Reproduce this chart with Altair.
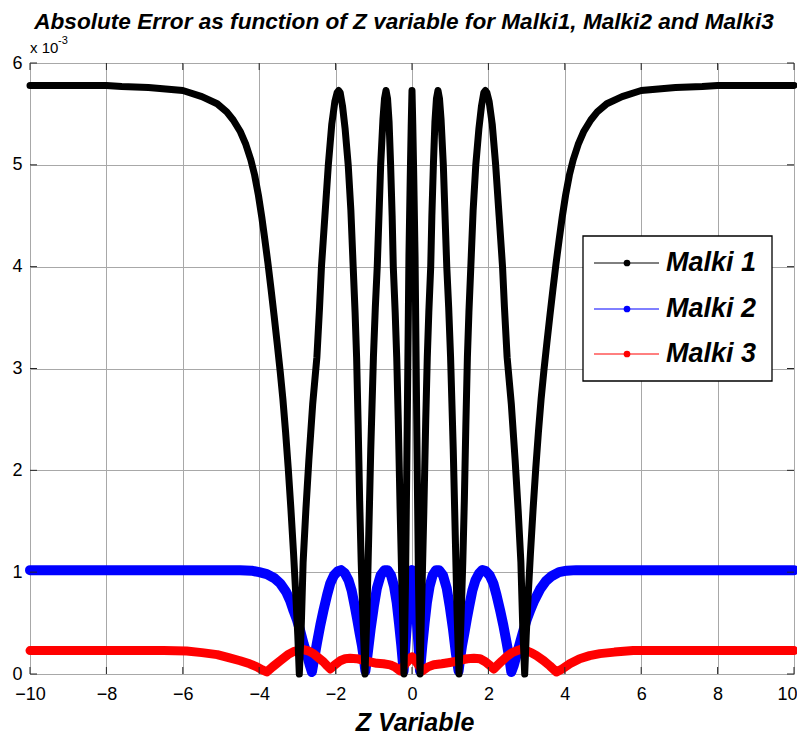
import altair as alt
import pandas as pd

TITLE = "Absolute Error as function of Z variable for Malki1, Malki2 and Malki3"
X_TITLE = "Z Variable"
SERIES = ["Malki 1", "Malki 2", "Malki 3"]
COLORS = ["#000000", "#0000ff", "#ff0000"]
X_TICKS = [-10, -8, -6, -4, -2, 0, 2, 4, 6, 8, 10]
Y_TICKS = [0, 1, 2, 3, 4, 5, 6]

# values in units of 1e-3
M1_X = [-10, -8, -7.6, -6.9, -6.0, -5.5, -5.1, -4.85, -4.68, -4.5, -4.35, -4.22, -4.12,
        -4.02, -3.93, -3.85, -3.77, -3.69, -3.61, -3.53, -3.45, -3.38, -3.31, -3.24, -3.17,
        -3.10, -3.04, -2.99, -2.95,
        -2.90, -2.85, -2.78, -2.70, -2.60, -2.49, -2.42, -2.37, -2.28, -2.19, -2.10, -2.02, -1.96,
        -1.92, -1.88, -1.82, -1.75, -1.67, -1.60, -1.54, -1.49, -1.45, -1.41, -1.37, -1.33, -1.28, -1.23,
        -1.18, -1.13, -1.08, -1.01, -0.96, -0.91, -0.86, -0.82, -0.76, -0.72, -0.68, -0.64, -0.60,
        -0.56, -0.52, -0.49, -0.44, -0.40, -0.36, -0.31, -0.26, -0.21,
        -0.17, -0.14, -0.11, -0.08, -0.045, -0.02, 0.0,
        0.02, 0.045, 0.08, 0.11, 0.14, 0.17,
        0.21, 0.26, 0.31, 0.36, 0.40, 0.44, 0.49, 0.52, 0.56, 0.60, 0.64, 0.68, 0.72, 0.76,
        0.82, 0.86, 0.91, 0.96, 1.01, 1.08, 1.13, 1.18,
        1.23, 1.28, 1.33, 1.37, 1.41, 1.45, 1.49, 1.54, 1.60, 1.67, 1.75, 1.82, 1.88, 1.92,
        1.96, 2.02, 2.10, 2.19, 2.28, 2.37, 2.42, 2.49, 2.60, 2.70, 2.78, 2.85, 2.90,
        2.95, 2.99, 3.04, 3.10, 3.17, 3.24, 3.31, 3.38, 3.45, 3.53, 3.61, 3.69, 3.77,
        3.85, 3.93, 4.02, 4.12, 4.22, 4.35, 4.5, 4.68, 4.85, 5.1, 5.5, 6.0, 6.9, 7.6, 8, 10]
M1_Y = [5.78, 5.78, 5.77, 5.76, 5.73, 5.67, 5.60, 5.52, 5.44, 5.33, 5.20, 5.05, 4.90,
        4.70, 4.48, 4.26, 4.03, 3.78, 3.52, 3.25, 2.97, 2.70, 2.38, 2.02, 1.62,
        1.18, 0.76, 0.38, 0.00,
        0.45, 1.10, 1.60, 2.10, 2.65, 3.11, 3.60, 4.00, 4.50, 5.00, 5.40, 5.62, 5.71,
        5.73, 5.71, 5.58, 5.35, 5.00, 4.55, 4.00, 3.55, 3.11, 2.45, 1.70, 1.10, 0.50, 0.00,
        0.60, 1.40, 2.20, 3.11, 3.60, 4.00, 4.55, 5.00, 5.45, 5.65, 5.73, 5.65, 5.42,
        5.00, 4.50, 4.00, 3.55, 3.11, 2.50, 1.60, 0.80, 0.00,
        0.90, 1.90, 3.00, 4.10, 4.90, 5.40, 5.73,
        5.40, 4.90, 4.10, 3.00, 1.90, 0.90,
        0.00, 0.80, 1.60, 2.50, 3.11, 3.55, 4.00, 4.50, 5.00, 5.42, 5.65, 5.73, 5.65, 5.45,
        5.00, 4.55, 4.00, 3.60, 3.11, 2.20, 1.40, 0.60,
        0.00, 0.50, 1.10, 1.70, 2.45, 3.11, 3.55, 4.00, 4.55, 5.00, 5.35, 5.58, 5.71, 5.73,
        5.71, 5.62, 5.40, 5.00, 4.50, 4.00, 3.60, 3.11, 2.65, 2.10, 1.60, 1.10, 0.45,
        0.00, 0.38, 0.76, 1.18, 1.62, 2.02, 2.38, 2.70, 2.97, 3.25, 3.52, 3.78, 4.03,
        4.26, 4.48, 4.70, 4.90, 5.05, 5.20, 5.33, 5.44, 5.52, 5.60, 5.67, 5.73, 5.76, 5.77, 5.78, 5.78]

M2_X = [-10, -8, -6, -5, -4.5, -4.2, -4.0, -3.8, -3.6, -3.45, -3.3, -3.19, -3.1, -3.01, -2.93, -2.84,
        -2.75, -2.67, -2.62,
        -2.56, -2.49, -2.40, -2.32, -2.22, -2.14, -2.04, -1.94, -1.86, -1.76, -1.66, -1.58, -1.50,
        -1.44, -1.37, -1.31, -1.26, -1.22,
        -1.16, -1.08, -1.0, -0.92, -0.82, -0.72, -0.64, -0.55, -0.47, -0.40, -0.34, -0.28, -0.22,
        -0.15, -0.08, -0.03, 0.0, 0.03, 0.08, 0.15, 0.21,
        0.27, 0.33, 0.39, 0.46, 0.54, 0.63, 0.71, 0.81, 0.91, 0.99, 1.07, 1.15, 1.22,
        1.26, 1.31, 1.37, 1.44, 1.50, 1.58, 1.66, 1.76, 1.84, 1.93, 2.03, 2.13, 2.21, 2.31, 2.39,
        2.48, 2.55, 2.60,
        2.66, 2.74, 2.83, 2.92, 3.0, 3.1, 3.2, 3.35, 3.5, 3.65, 3.85, 4.05, 4.3, 5, 6, 8, 10]
M2_Y = [1.02, 1.02, 1.02, 1.02, 1.02, 1.015, 1.0, 0.98, 0.94, 0.89, 0.81, 0.72, 0.62, 0.53, 0.43, 0.30,
        0.19, 0.08, 0.02,
        0.15, 0.30, 0.48, 0.62, 0.78, 0.89, 0.97, 1.01, 1.02, 0.99, 0.92, 0.82, 0.67,
        0.55, 0.40, 0.28, 0.15, 0.03,
        0.20, 0.45, 0.66, 0.84, 0.97, 1.02, 1.02, 0.97, 0.86, 0.70, 0.50, 0.28, 0.03,
        0.40, 0.75, 0.95, 1.02, 0.95, 0.75, 0.40, 0.03,
        0.28, 0.50, 0.70, 0.86, 0.97, 1.02, 1.02, 0.97, 0.84, 0.66, 0.45, 0.20, 0.03,
        0.15, 0.28, 0.40, 0.55, 0.67, 0.82, 0.92, 0.99, 1.02, 1.01, 0.97, 0.89, 0.78, 0.62, 0.48,
        0.30, 0.15, 0.02,
        0.08, 0.19, 0.31, 0.43, 0.53, 0.63, 0.72, 0.83, 0.91, 0.96, 1.0, 1.015, 1.02, 1.02, 1.02, 1.02, 1.02]

M3_X = [-10, -8, -6.5, -5.9, -5.5, -5.1, -4.8, -4.5, -4.25, -4.06, -3.92, -3.8, -3.65, -3.45, -3.25,
        -3.1, -2.95, -2.84, -2.7, -2.58, -2.45, -2.32, -2.22, -2.14, -2.02, -1.88, -1.75, -1.62,
        -1.45, -1.27, -1.1, -0.92, -0.75, -0.57, -0.45, -0.31, -0.15, 0.0, 0.13, 0.27, 0.42, 0.57,
        0.78, 0.95, 1.1, 1.25, 1.45, 1.62, 1.78, 1.92, 2.05, 2.14, 2.25, 2.36, 2.48, 2.62, 2.82,
        2.98, 3.12, 3.26, 3.45, 3.61, 3.78, 3.93, 4.13, 4.39, 4.65, 4.92, 5.3, 5.79, 6.5, 8, 10]
M3_Y = [0.23, 0.23, 0.23, 0.225, 0.21, 0.19, 0.16, 0.13, 0.10, 0.07, 0.04, 0.02, 0.07, 0.13, 0.19,
        0.22, 0.235, 0.24, 0.225, 0.20, 0.16, 0.12, 0.08, 0.05, 0.09, 0.13, 0.15, 0.155,
        0.15, 0.135, 0.12, 0.105, 0.10, 0.09, 0.07, 0.03, 0.11, 0.17, 0.11, 0.03, 0.07, 0.09,
        0.10, 0.11, 0.12, 0.135, 0.15, 0.155, 0.15, 0.12, 0.08, 0.05, 0.09, 0.13, 0.17, 0.21, 0.24,
        0.23, 0.21, 0.18, 0.13, 0.08, 0.02, 0.05, 0.10, 0.15, 0.18, 0.20, 0.215, 0.23, 0.23, 0.23, 0.23]

W, H = 764, 611
FONT = "Liberation Sans"

def frame(name, xs, ys):
    return pd.DataFrame({"series": name, "z": xs, "err": ys, "order": range(len(xs))})

df1 = frame(SERIES[0], M1_X, M1_Y)
df2 = frame(SERIES[1], M2_X, M2_Y)
df3 = frame(SERIES[2], M3_X, M3_Y)

xscale = alt.Scale(domain=[-10, 10], nice=False, zero=False)
yscale = alt.Scale(domain=[0, 6], nice=False)
cscale = alt.Scale(domain=SERIES, range=COLORS)

xaxis = alt.Axis(values=X_TICKS, title=None, grid=True, gridColor="#a8a8a8", gridWidth=1,
                 domain=False, ticks=False, labelFontSize=18, labelFont=FONT, labelColor="#000",
                 labelPadding=11, labelFlush=False, format="d",
                 labelOffset={"condition": {"test": "datum.value == 10", "value": -7}, "value": 0})
yaxis = alt.Axis(values=Y_TICKS, title=None, grid=True, gridColor="#a8a8a8", gridWidth=1,
                 domain=False, ticks=False, labelFontSize=18, labelFont=FONT, labelColor="#000",
                 labelPadding=8, labelFlush=False, format="d")

def series_layer(df, width):
    return alt.Chart(df).mark_line(strokeWidth=width, strokeCap="round", strokeJoin="round").encode(
        x=alt.X("z:Q", scale=xscale, axis=xaxis),
        y=alt.Y("err:Q", scale=yscale, axis=yaxis),
        color=alt.Color("series:N", scale=cscale, legend=None),
        order="order:Q",
    )

blue = series_layer(df2, 10)
red = series_layer(df3, 9)
black = series_layer(df1, 7)

# inner tick marks (MATLAB style)
xt = pd.DataFrame({"t": X_TICKS})
yt = pd.DataFrame({"t": Y_TICKS})
tick_len = 7
xt_bottom = alt.Chart(xt).mark_rule(color="#262626").encode(
    x=alt.X("t:Q", scale=xscale), y=alt.value(H), y2=alt.value(H - tick_len))
xt_top = alt.Chart(xt).mark_rule(color="#262626").encode(
    x=alt.X("t:Q", scale=xscale), y=alt.value(0), y2=alt.value(tick_len))
yt_left = alt.Chart(yt).mark_rule(color="#262626").encode(
    y=alt.Y("t:Q", scale=yscale), x=alt.value(0), x2=alt.value(tick_len))
yt_right = alt.Chart(yt).mark_rule(color="#262626").encode(
    y=alt.Y("t:Q", scale=yscale), x=alt.value(W), x2=alt.value(W - tick_len))

one = pd.DataFrame({"title": [TITLE], "xt": [X_TITLE]})
title = alt.Chart(one).mark_text(fontSize=22.6, font=FONT, fontStyle="italic", fontWeight="bold",
                                 align="center", baseline="middle", color="#000").encode(
    text="title:N", x=alt.value(374), y=alt.value(-41))
xtitle = alt.Chart(one).mark_text(fontSize=25, font=FONT, fontStyle="italic", fontWeight="bold",
                                  align="center", baseline="alphabetic", color="#000").encode(
    text="xt:N", x=alt.value(W / 2 + 3), y=alt.value(668))

exp_df = pd.DataFrame({"a": ["x 10"], "b": ["-3"]})
exp1 = alt.Chart(exp_df).mark_text(fontSize=15, font=FONT, align="left", baseline="middle", color="#000").encode(
    text="a:N", x=alt.value(0), y=alt.value(-15))
exp2 = alt.Chart(exp_df).mark_text(fontSize=11, font=FONT, align="left", baseline="middle", color="#000").encode(
    text="b:N", x=alt.value(28), y=alt.value(-22))

# legend
LX0, LX1, LY0, LY1 = 553, 742, 173, 318
leg = pd.DataFrame({"series": SERIES, "ly": [200, 246, 291]})
box = alt.Chart(one).mark_rect(fill="white", stroke="#000", strokeWidth=1.3).encode(
    x=alt.value(LX0), x2=alt.value(LX1), y=alt.value(LY0), y2=alt.value(LY1))
leg_lines = alt.Chart(leg).mark_rule(strokeWidth=1).encode(
    x=alt.value(564), x2=alt.value(629), y=alt.Y("ly:Q", scale=None),
    color=alt.Color("series:N", scale=cscale, legend=None))
leg_pts = alt.Chart(leg).mark_point(filled=True, opacity=1, size=45, shape="circle").encode(
    x=alt.value(597), y=alt.Y("ly:Q", scale=None),
    color=alt.Color("series:N", scale=cscale, legend=None))
leg_txt = alt.Chart(leg).mark_text(fontSize=27, font=FONT, fontStyle="italic", fontWeight="bold",
                                   align="left", baseline="middle", color="#000").encode(
    x=alt.value(636), y=alt.Y("ly:Q", scale=None), text="series:N")

chart = alt.layer(
    blue, red, black, xt_bottom, xt_top, yt_left, yt_right,
    box, leg_lines, leg_pts, leg_txt, title, xtitle, exp1, exp2
).properties(
    width=W, height=H,
    autosize=alt.AutoSizeParams(type="none"),
    padding={"left": 22, "top": 55, "right": 3, "bottom": 65},
).configure_view(stroke="#262626", strokeWidth=1).configure(background="white")

chart.save("out.html", embed_options={"renderer": "svg", "actions": False})
